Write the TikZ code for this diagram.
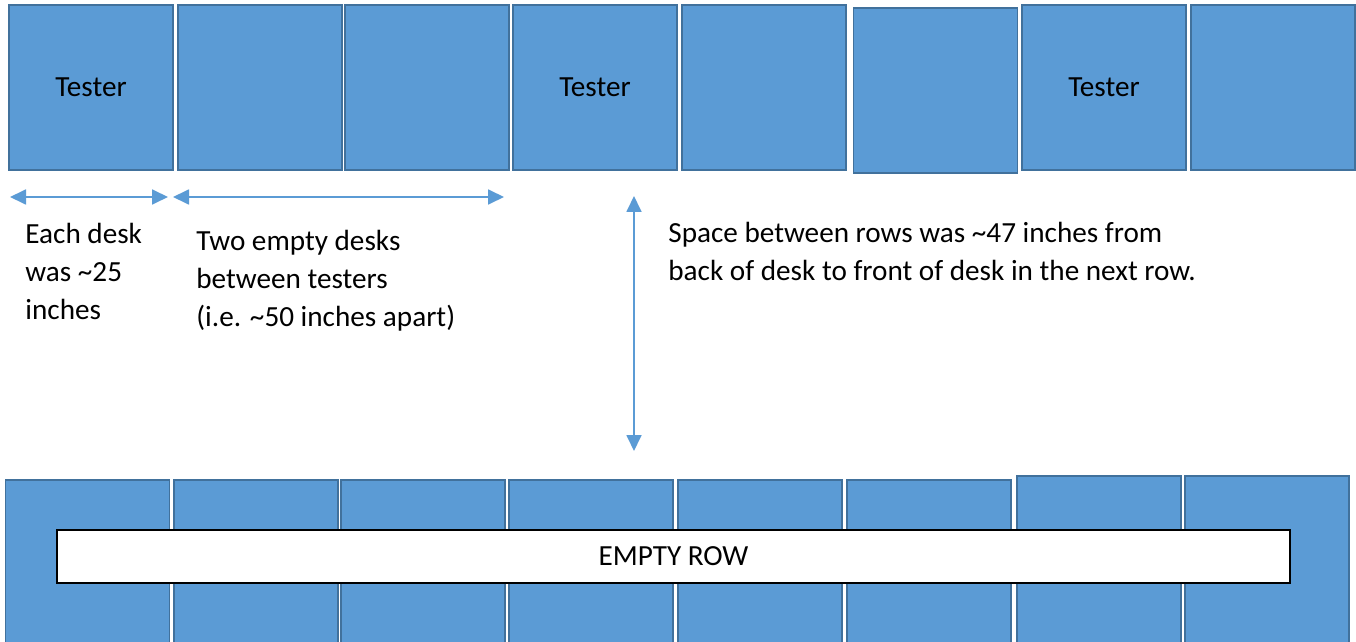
\documentclass[tikz,border=0pt]{standalone}
\usepackage{fontspec}
\setmainfont{Carlito}
\usetikzlibrary{arrows.meta}
\definecolor{deskfill}{HTML}{5B9BD5}
\definecolor{deskline}{HTML}{41719C}
\begin{document}
\begin{tikzpicture}[x=0.5pt,y=-0.5pt,
  every node/.style={font=\fontsize{14.6}{19}\selectfont},
  desk/.style={draw=deskline, fill=deskfill, line width=0.6pt, minimum width=82pt, inner sep=0pt},
  toprow/.style={desk, minimum height=82.5pt},
  botrow/.style={desk, minimum height=90pt},
  botrowhi/.style={desk, minimum height=92pt},
  dimarrow/.style={draw=deskfill, line width=0.9pt, {Triangle[length=8pt,width=7.5pt]}-{Triangle[length=8pt,width=7.5pt]}},
  note/.style={anchor=north west, align=left, inner sep=0pt}]
\clip (0,0) rectangle (1356,642);
\fill[white] (0,0) rectangle (1356,642);
% top row
\node[toprow] (t1) at (91,87.5) {Tester};
\node[toprow] (t2) at (260,87.5) {};
\node[toprow] (t3) at (427,87.5) {};
\node[toprow] (t4) at (595,87.5) {Tester};
\node[toprow] (t5) at (764,87.5) {};
\node[toprow] (t6) at (935.5,90.5) {};
\node[toprow] (t7) at (1104,87.5) {Tester};
\node[toprow] (t8) at (1273,87.5) {};
% bottom row
\node[botrow] (b1) at (87.5,570) {};
\node[botrow] (b2) at (256,570) {};
\node[botrow] (b3) at (423,570) {};
\node[botrow] (b4) at (591,570) {};
\node[botrow] (b5) at (760,570) {};
\node[botrow] (b6) at (929,570) {};
\node[botrowhi] (b7) at (1099,568) {};
\node[botrowhi] (b8) at (1267,568) {};
\node[draw=black, fill=white, line width=0.8pt, minimum width=616.5pt, minimum height=26.5pt, inner sep=0pt] (empty) at (673.5,556.5) {EMPTY ROW};
% dimension arrows
\coordinate (a1s) at (10,197);
\coordinate (a1e) at (168,197);
\coordinate (a2s) at (173,197);
\coordinate (a2e) at (504,197);
\coordinate (v1) at (634,196);
\coordinate (v2) at (634,451);
\draw[dimarrow] (a1s) -- (a1e);
\draw[dimarrow] (a2s) -- (a2e);
\draw[dimarrow] (v1) -- (v2);
% notes
\node[note] (n1) at (25,223) {Each desk\\was \textasciitilde25\\inches};
\node[note] (n2) at (196,230) {Two empty desks\\between testers\\(i.e. \textasciitilde50 inches apart)};
\node[note] (n3) at (668,222) {Space between rows was \textasciitilde47 inches from\\back of desk to front of desk in the next row.};
\end{tikzpicture}
\end{document}
